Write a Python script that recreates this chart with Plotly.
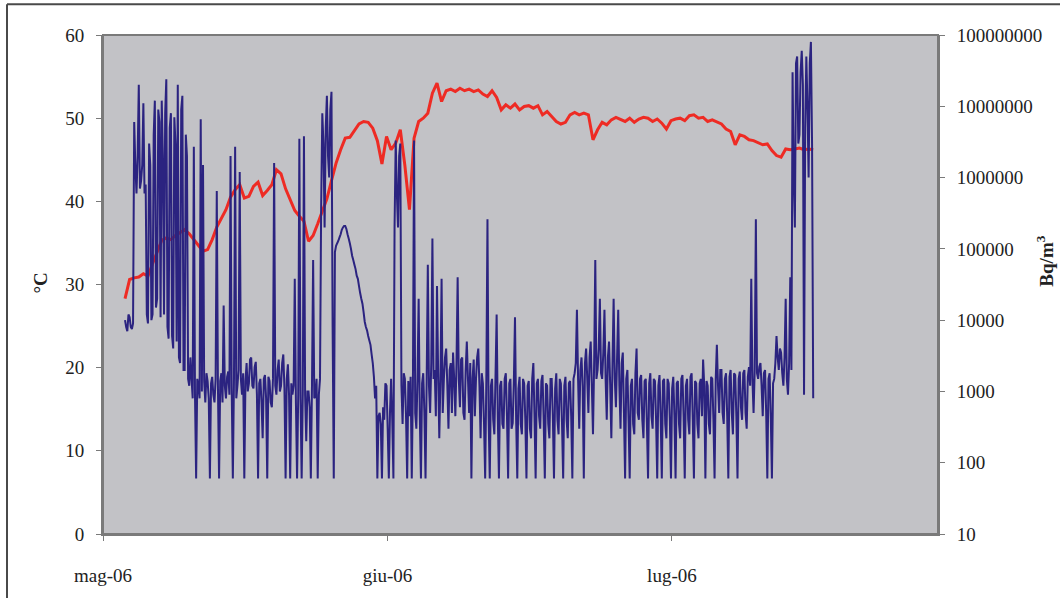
import numpy as np
import plotly.graph_objects as go

# ---------------- data ----------------
tick_days = [0, 31, 62]
tick_labels = ["mag-06", "giu-06", "lug-06"]

temp_ticks = [0, 10, 20, 30, 40, 50, 60]

radon_ticks = [10, 100, 1000, 10000, 100000, 1000000, 10000000, 100000000]
radon_tick_labels = ["10", "100", "1000", "10000", "100000", "1000000", "10000000", "100000000"]

# temperature (°C), one reading every 0.5 day starting on day 2.4
temp_start_day = 2.4
temp_step_days = 0.5
temperature_c = [
    28.3, 30.6, 30.8, 30.9, 31.3, 31.0, 32.5, 34.0, 35.3, 35.6,
    35.4, 35.9, 36.2, 36.6, 36.1, 35.4, 34.6, 34.0, 34.2, 35.4,
    36.9, 38.0, 39.0, 40.5, 41.4, 42.0, 40.4, 40.6, 41.8, 42.3,
    40.7, 41.3, 42.0, 43.8, 43.3, 41.5, 40.1, 38.9, 38.2, 37.6,
    35.2, 35.9, 37.3, 38.9, 40.3, 42.5, 44.6, 46.2, 47.6, 47.7,
    48.5, 49.3, 49.6, 49.5, 48.8, 47.3, 44.5, 47.8, 46.2, 47.0,
    48.6, 44.3, 39.0, 47.6, 49.6, 50.0, 50.6, 53.0, 54.2, 52.0,
    53.3, 53.5, 53.2, 53.6, 53.3, 53.5, 53.2, 53.4, 52.9, 52.6,
    53.3, 52.5, 51.0, 51.6, 51.2, 51.7, 51.0, 51.4, 51.5, 51.2,
    51.5, 50.4, 50.8, 50.2, 49.6, 49.3, 49.5, 50.4, 50.7, 50.4,
    50.6, 50.4, 47.4, 48.6, 49.5, 49.2, 49.8, 50.1, 49.8, 49.6,
    50.0, 49.5, 49.9, 50.1, 50.0, 49.6, 49.9, 49.4, 48.7, 49.7,
    49.9, 50.0, 49.7, 50.3, 50.4, 50.0, 50.1, 49.6, 49.8, 49.5,
    49.3, 48.7, 48.4, 46.8, 48.0, 47.8, 47.4, 47.3, 47.0, 46.8,
    46.9, 46.1, 45.5, 45.3, 46.3, 46.2, 46.3, 46.4, 46.2, 46.3,
    46.2,
]

# radon concentration (Bq/m3), one reading every 0.125 day starting on day 2.4
radon_start_day = 2.4
radon_step_days = 0.125
radon_bq_m3 = [
    10000, 8000, 7000, 12000, 11000, 8000, 7500, 9000, 6000000, 1500000,
    600000, 2000000, 20000000, 700000, 900000, 1500000, 11000000, 600000, 800000, 12000,
    9000, 3000000, 1500000, 10000, 12000, 4000000, 12000000, 15000, 20000, 9000000,
    6000000, 11000, 12000000, 2000000, 12000, 8000000, 24000000, 8000, 5500, 5000000,
    8000000, 6000, 4000, 7000000, 3000000, 5000, 20000000, 3000, 2500, 9000000,
    14000000, 2000, 2000, 4000000, 2000000, 1500, 1200, 3000, 1500, 800,
    2700000, 900, 60, 1500, 1200, 800, 6600000, 1000, 1500000, 1400,
    700, 1800, 1400, 800, 60, 1300, 1600, 900, 700, 1500,
    650000, 1200, 60, 1400, 1800, 700, 16000, 1200, 800, 1600,
    1900, 900, 2000000, 1100, 60, 1500, 2700000, 800, 1200, 2000,
    1200000, 1500, 900, 1800, 60, 1400, 2500, 1000, 1300, 2800,
    3000, 1200, 1100, 2200, 2600, 900, 60, 1300, 1500, 700,
    220, 1500, 1700, 800, 60, 1600, 1400, 700, 600, 1500,
    1600000, 1200, 900, 2000, 2800, 1000, 1200, 2500, 3300, 1100,
    60, 1500, 2400, 900, 60, 1300, 900, 1200, 38000, 700,
    60, 900, 3500000, 800, 60, 1000, 3800000, 900, 200, 1000,
    1000, 600, 60, 1200, 70000, 800, 900, 1500, 60, 900,
    1500, 400000, 8000000, 3000000, 200000, 5000000, 14000000, 2000000, 1000000, 9000000,
    16000000, 8000, 60, 90000, 110000, 120000, 130000, 145000, 160000, 185000,
    200000, 210000, 210000, 190000, 160000, 140000, 120000, 100000, 80000, 70000,
    60000, 52000, 42000, 38000, 30000, 24000, 20000, 17000, 13000, 9500,
    8000, 7200, 6000, 5200, 4500, 3300, 2500, 1600, 800, 1200,
    60, 450, 500, 350, 60, 600, 400, 1300, 1200, 300,
    60, 500, 1500, 400, 60, 200000, 3300000, 600000, 200000, 2000000,
    3000000, 1200, 350, 1800, 1500, 450, 60, 1400, 450, 1600,
    60, 1200, 3300000, 500, 300, 1500, 20000, 450, 60, 1300,
    1800, 500, 60, 1500, 60000, 1200, 500, 2500, 140000, 1500,
    2000, 450, 30000, 1800, 220, 1500, 38000, 500, 1500, 3000,
    4000, 1200, 300, 2000, 2500, 500, 3500, 1500, 450, 2500,
    40000, 1500, 600, 2800, 3000, 500, 400, 2000, 5000, 1500,
    500, 2500, 60, 1500, 2800, 450, 1500, 3000, 4000, 1200,
    220, 1800, 1300, 350, 60, 1400, 260000, 450, 60, 1200,
    1500, 400, 250, 1600, 12000, 450, 60, 1200, 1400, 350,
    300, 1500, 1800, 450, 60, 1300, 1500, 300, 360, 1400,
    11000, 400, 60, 1100, 1600, 350, 250, 1500, 1300, 400,
    60, 1200, 1400, 300, 220, 1500, 2500, 450, 60, 1300,
    1500, 450, 300, 1400, 1700, 400, 60, 1300, 1200, 350,
    220, 1500, 1500, 450, 60, 1100, 1800, 400, 250, 1500,
    1300, 350, 60, 1200, 1600, 400, 220, 1300, 1400, 450,
    60, 1500, 1800, 2500, 14000, 1500, 300, 2000, 3000, 1200,
    60, 2500, 4000, 1500, 500, 3000, 5000, 1200, 250, 2500,
    70000, 1500, 2000, 4000, 20000, 1800, 1500, 3500, 14000, 1500,
    400, 3000, 5000, 1200, 220, 2500, 20000, 1500, 600, 3000,
    14000, 1200, 300, 2500, 3500, 500, 60, 1500, 2000, 400,
    60, 1200, 1500, 350, 250, 1800, 4000, 500, 400, 1500,
    1700, 400, 220, 1400, 1500, 350, 60, 1300, 1800, 450,
    300, 1500, 1400, 400, 60, 1200, 1700, 450, 60, 1400,
    1500, 350, 220, 1500, 1300, 400, 60, 1100, 1600, 450,
    60, 1300, 1400, 350, 220, 1500, 1700, 450, 60, 1200,
    1500, 400, 250, 1600, 1800, 400, 60, 1400, 1300, 350,
    220, 1300, 1500, 450, 2800, 1200, 60, 1400, 1200, 350,
    250, 1600, 1500, 400, 60, 1500, 4500, 1200, 500, 2000,
    2000, 500, 350, 1500, 1800, 450, 60, 1600, 2000, 500,
    250, 1800, 1700, 450, 60, 1500, 1900, 600, 400, 1800,
    2000, 500, 300, 1600, 2200, 1200, 38000, 1500, 500, 2000,
    260000, 1800, 1500, 2200, 2500, 1200, 450, 1800, 2000, 500,
    60, 1500, 1800, 450, 60, 1300, 1500, 2500, 6000, 3000,
    2000, 4000, 3500, 1800, 1200, 3000, 20000, 1500, 900, 2500,
    40000, 2000, 30000000, 1000000, 200000, 40000000, 50000000, 3000000, 4000000, 30000000,
    60000000, 20000000, 900, 5000000, 50000000, 10000000, 1000000, 40000000, 80000000, 3000000,
    800,
]

temp_days = temp_start_day + temp_step_days * np.arange(len(temperature_c))
radon_days = radon_start_day + radon_step_days * np.arange(len(radon_bq_m3))

# ---------------- figure ----------------
W, H = 1060, 598
L, R, T, B = 103, 938, 35, 537


def px_x(px):
    return (px - L) / (R - L)


def px_y(py):
    return (B - py) / (B - T)


font_family = "Liberation Serif, Times New Roman, serif"
text_col = "#222222"
axis_col = "#7a7a7a"

fig = go.Figure()

fig.add_trace(go.Scatter(
    x=temp_days, y=temperature_c, mode="lines",
    line=dict(color="#ee2b24", width=3),
    yaxis="y", showlegend=False, hoverinfo="skip",
))

fig.add_trace(go.Scatter(
    x=radon_days, y=radon_bq_m3, mode="lines",
    line=dict(color="#2b2380", width=2, simplify=False),
    yaxis="y2", showlegend=False, hoverinfo="skip",
))

fig.update_layout(
    width=W, height=H,
    margin=dict(l=L, r=W - R, t=T, b=H - B, pad=0),
    paper_bgcolor="white",
    plot_bgcolor="#c2c2c6",
    font=dict(family=font_family, size=19, color=text_col),
    xaxis=dict(
        range=[0, 91], tickvals=tick_days, ticktext=tick_labels,
        showgrid=False, zeroline=False,
        showline=True, linecolor=axis_col, linewidth=2,
        ticks="outside", ticklen=5, tickcolor=axis_col,
        ticklabelstandoff=18,
    ),
    yaxis=dict(
        range=[0, 60], tickvals=temp_ticks,
        showgrid=False, zeroline=False,
        showline=True, linecolor=axis_col, linewidth=2,
        ticks="outside", ticklen=5, tickcolor=axis_col,
        ticklabelstandoff=8,
    ),
    yaxis2=dict(
        type="log", range=[1, 8], overlaying="y", side="right",
        tickvals=radon_ticks, ticktext=radon_tick_labels,
        showgrid=False, zeroline=False,
        showline=True, linecolor=axis_col, linewidth=2,
        ticks="outside", ticklen=5, tickcolor=axis_col,
        ticklabelstandoff=8,
    ),
    shapes=[
        dict(type="rect", xref="paper", yref="paper", x0=0, x1=1, y0=0, y1=1,
             line=dict(color=axis_col, width=2), layer="above"),
        dict(type="line", xref="paper", yref="paper",
             x0=px_x(7), x1=px_x(7), y0=px_y(4), y1=px_y(620),
             line=dict(color="#4a4a4a", width=2)),
        dict(type="line", xref="paper", yref="paper",
             x0=px_x(7), x1=px_x(1080), y0=px_y(4), y1=px_y(4),
             line=dict(color="#4a4a4a", width=2)),
    ],
    annotations=[
        dict(text="<b>°C</b>", xref="paper", yref="paper",
             x=px_x(41), y=px_y(284), textangle=-90, showarrow=False,
             xanchor="center", yanchor="middle",
             font=dict(family=font_family, size=19, color=text_col)),
        dict(text="<b>Bq/m<sup>3</sup></b>", xref="paper", yref="paper",
             x=px_x(1045), y=px_y(263), textangle=-90, showarrow=False,
             xanchor="center", yanchor="middle",
             font=dict(family=font_family, size=19, color=text_col)),
    ],
)

fig.write_html(
    "out.html",
    config={"displayModeBar": False},
    post_script="document.body.style.margin='0px';document.body.style.overflow='hidden';",
)
